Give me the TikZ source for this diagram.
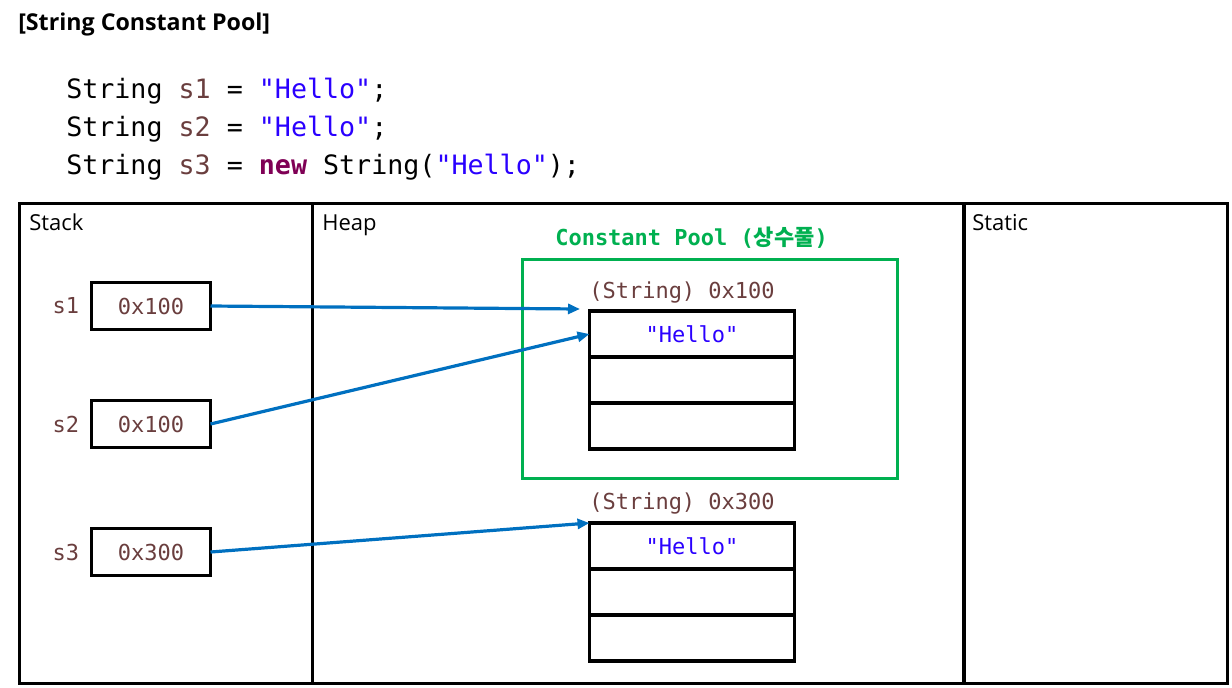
\documentclass[tikz,border=0pt]{standalone}
\usepackage{fontspec}
\setmainfont{Open Sans}
\setmonofont{DejaVu Sans Mono}
\newfontfamily\krfont{Noto Sans CJK KR}
\usetikzlibrary{positioning,arrows.meta}

\definecolor{varbrown}{HTML}{6A3E3E}
\definecolor{strblue}{HTML}{2A00FF}
\definecolor{kwpurple}{HTML}{7F0055}
\definecolor{refblue}{HTML}{0070C0}
\definecolor{poolgreen}{HTML}{00B050}

\newcommand{\codefont}{\ttfamily\fontsize{20}{24}\selectfont}
\newcommand{\monosmall}{\ttfamily\fontsize{16.5}{20}\selectfont}

\tikzset{
  area/.style={line width=2.4pt},
  arealabel/.style={anchor=base west, inner sep=0pt, font=\fontsize{16.5}{19}\selectfont},
  valbox/.style={draw, line width=2.6pt, outer sep=0pt, inner sep=0pt,
    minimum width=89.25pt, minimum height=35.25pt, font=\monosmall, text=varbrown},
  varname/.style={inner sep=0pt, font=\monosmall, text=varbrown},
  cell/.style={draw, line width=2.6pt, outer sep=0pt, inner sep=0pt,
    minimum width=153.75pt, minimum height=34.5pt, font=\monosmall, text=strblue},
  objlabel/.style={anchor=base, inner sep=0pt, font=\monosmall, text=varbrown},
  ref/.style={draw=refblue, line width=2.4pt, -{Triangle[length=9pt,width=7.5pt]}},
}

\begin{document}
\begin{tikzpicture}[x=0.75pt, y=-0.75pt]
    \useasboundingbox (0,0) rectangle (1232,687);

    \node[anchor=west, inner sep=0pt, font=\bfseries\fontsize{17.4}{20}\selectfont]
       (title) at (18,24) {[String Constant Pool]};

    %Code
    \node[anchor=base west, inner sep=0pt, font=\codefont] (line1) at (66,98)
       {String \textcolor{varbrown}{s1} = \textcolor{strblue}{"Hello"};};
    \node[anchor=base west, inner sep=0pt, font=\codefont] (line2) at (66,136)
       {String \textcolor{varbrown}{s2} = \textcolor{strblue}{"Hello"};};
    \node[anchor=base west, inner sep=0pt, font=\codefont] (line3) at (66,174)
       {String \textcolor{varbrown}{s3} = \textcolor{kwpurple}{\bfseries new} String(\textcolor{strblue}{"Hello"});};

    %Areas
    \draw[area] (19.5,203.5) rectangle (1227.5,683.5);
    \draw[area] (312.5,203.5) -- (312.5,683.5);
    \draw[area] (964,203.5) -- (964,683.5);

    \node[arealabel] (stackLbl) at (29,230) {Stack};
    \node[arealabel] (heapLbl) at (322,230) {Heap};
    \node[arealabel] (staticLbl) at (972,230) {Static};

    %Stack
    \node[valbox] (v1) at (151,306) {0x100};
    \node[valbox] (v2) at (151,424) {0x100};
    \node[valbox] (v3) at (151,552) {0x300};

    \node[varname, left=9pt of v1] (s1) {s1};
    \node[varname, left=9pt of v2] (s2) {s2};
    \node[varname, left=9pt of v3] (s3) {s3};

    %Constant pool
    \draw[draw=poolgreen, line width=2.4pt] (522.5,259.5) rectangle (897.5,478.5);
    \node[anchor=base west, inner sep=0pt, text=poolgreen, font=\monosmall\bfseries]
       (poolLbl) at (555,245) {Constant Pool ({\krfont\bfseries 상수풀})};

    \node[objlabel] (obj1Lbl) at (682,298) {(String) 0x100};
    \node[cell] (pool1) at (692,334) {"Hello"};
    \node[cell, below=0pt of pool1] (pool2) {};
    \node[cell, below=0pt of pool2] (pool3) {};

    %Heap object
    \node[objlabel] (obj2Lbl) at (682,509) {(String) 0x300};
    \node[cell] (heap1) at (692,546) {"Hello"};
    \node[cell, below=0pt of heap1] (heap2) {};
    \node[cell, below=0pt of heap2] (heap3) {};

    %References
    \coordinate (p1Tip) at (580,309);
    \draw[ref] (v1.east) -- (p1Tip);
    \draw[ref] (v2.east) -- (pool1.west);
    \draw[ref] (v3.east) -- (heap1.north west);
\end{tikzpicture}
\end{document}
